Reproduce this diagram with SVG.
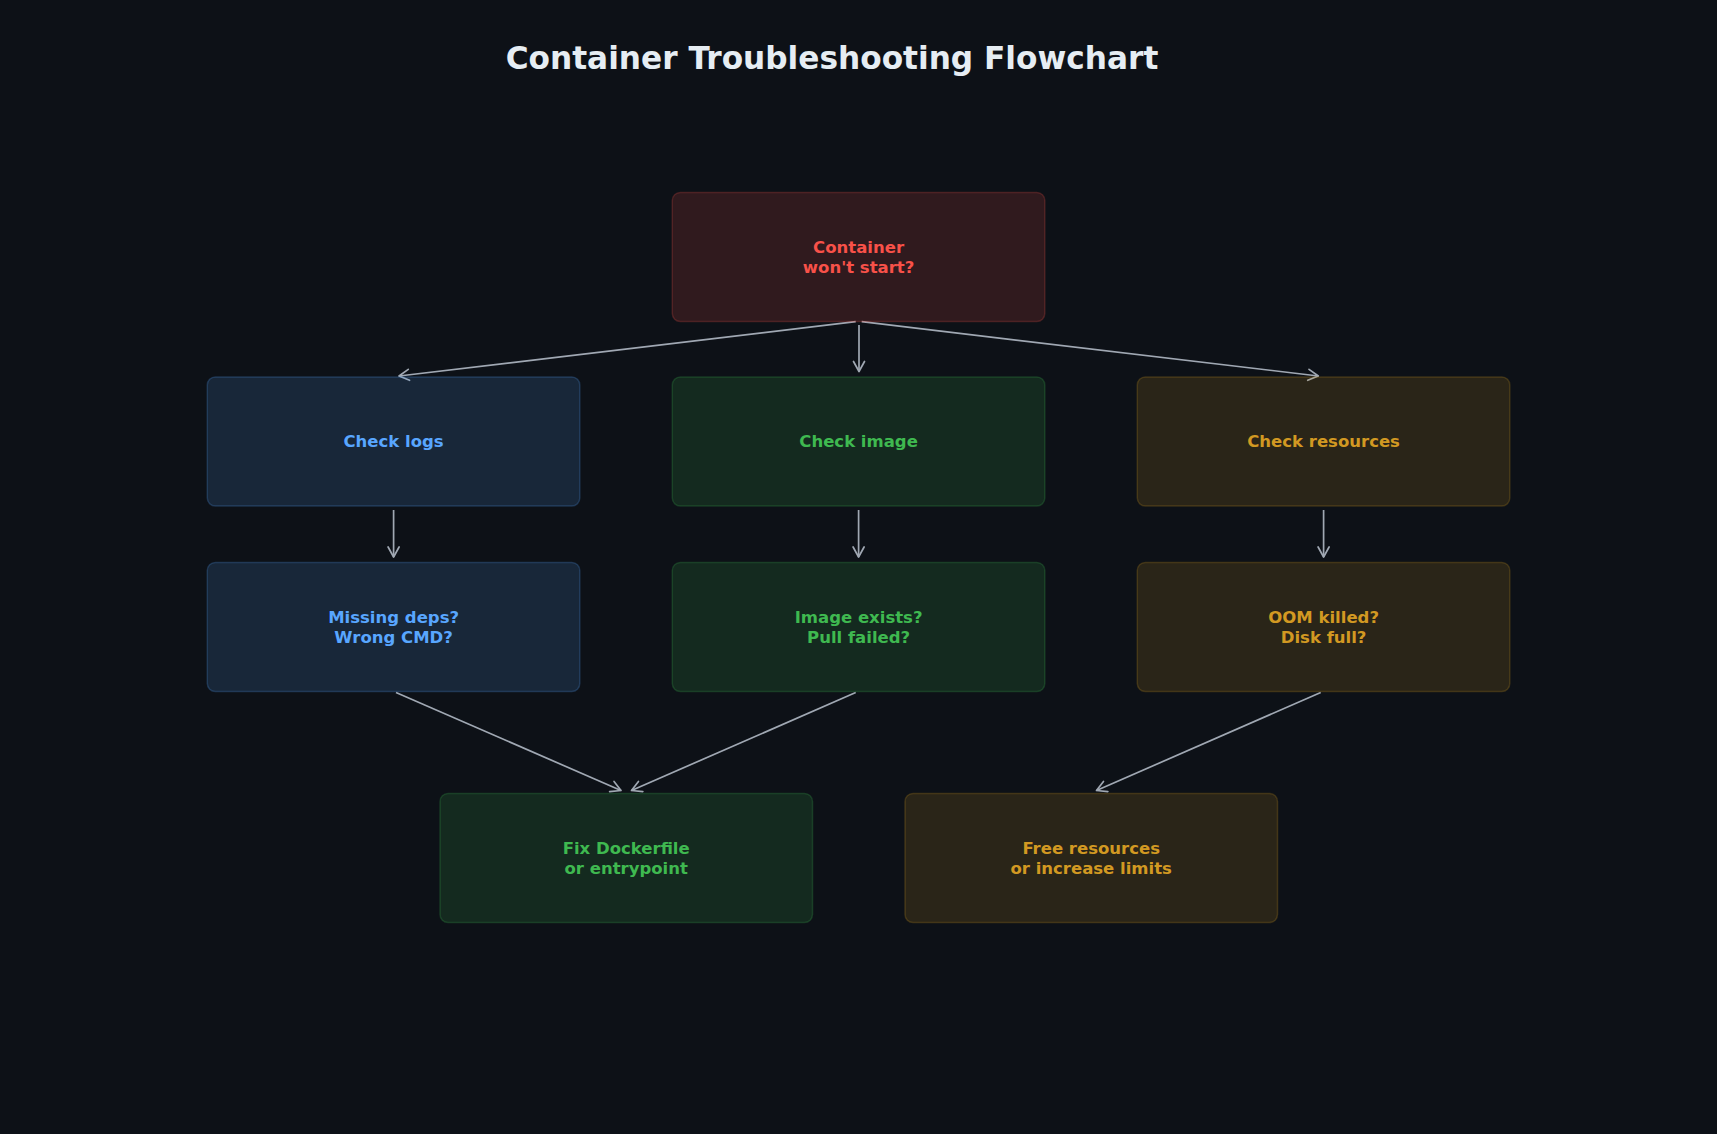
<svg xmlns="http://www.w3.org/2000/svg" width="1717" height="1134" viewBox="0 0 1717 1134">
  <defs>
    <marker id="arrow" markerUnits="userSpaceOnUse" markerWidth="14" markerHeight="14" viewBox="-12 -7 14 14" refX="0" refY="0" orient="auto">
      <polyline points="-10,-5.5 0,0 -10,5.5" fill="none" stroke="#a0a8b3" stroke-width="1.7" stroke-linecap="round" stroke-linejoin="round"/>
    </marker>
    <style>
      .title { font-family: "DejaVu Sans", "Liberation Sans", sans-serif; font-weight: bold; font-size: 31.2px; fill: #e6edf3; text-anchor: middle; }
      .lbl { font-family: "DejaVu Sans", "Liberation Sans", sans-serif; font-weight: bold; font-size: 16.5px; text-anchor: middle; }
      .box { stroke-width: 1.5; fill-opacity: 0.15; stroke-opacity: 0.22; }
      .red { fill: #f85149; stroke: #f85149; }
      .blue { fill: #58a6ff; stroke: #58a6ff; }
      .green { fill: #3fb950; stroke: #3fb950; }
      .yellow { fill: #d29922; stroke: #d29922; }
      .tred { fill: #f85149; }
      .tblue { fill: #58a6ff; }
      .tgreen { fill: #3fb950; }
      .tyellow { fill: #d29922; }
      .edge { fill: none; stroke: #a0a8b3; stroke-width: 1.7; marker-end: url(#arrow); }
    </style>
  </defs>
  <rect x="0" y="0" width="1717" height="1134" fill="#0d1117"/>
  <text class="title" x="832" y="69">Container Troubleshooting Flowchart</text>

  <g id="connectors">
    <line class="edge" x1="855.7" y1="321.7" x2="399" y2="376"/>
    <line class="edge" x1="859" y1="325" x2="859" y2="371.5"/>
    <line class="edge" x1="861.7" y1="321.7" x2="1318.3" y2="376"/>
    <line class="edge" x1="393.6" y1="510" x2="393.6" y2="557"/>
    <line class="edge" x1="858.6" y1="510" x2="858.6" y2="557"/>
    <line class="edge" x1="1323.6" y1="510" x2="1323.6" y2="557"/>
    <line class="edge" x1="396" y1="692.5" x2="621" y2="790.5"/>
    <line class="edge" x1="855.7" y1="692.5" x2="631.5" y2="790.5"/>
    <line class="edge" x1="1320.7" y1="692.5" x2="1096.5" y2="790.5"/>
  </g>

  <g id="node-start">
    <rect class="box red" x="672.3" y="192.5" width="372.5" height="129" rx="8"/>
    <text class="lbl tred" x="858.6" y="252.5">Container</text>
    <text class="lbl tred" x="858.6" y="272.5">won't start?</text>
  </g>
  <g id="node-logs">
    <rect class="box blue" x="207.3" y="377" width="372.5" height="129" rx="8"/>
    <text class="lbl tblue" x="393.6" y="446.8">Check logs</text>
  </g>
  <g id="node-image">
    <rect class="box green" x="672.3" y="377" width="372.5" height="129" rx="8"/>
    <text class="lbl tgreen" x="858.6" y="446.8">Check image</text>
  </g>
  <g id="node-resources">
    <rect class="box yellow" x="1137.3" y="377" width="372.5" height="129" rx="8"/>
    <text class="lbl tyellow" x="1323.6" y="446.8">Check resources</text>
  </g>
  <g id="node-missing">
    <rect class="box blue" x="207.3" y="562.5" width="372.5" height="129" rx="8"/>
    <text class="lbl tblue" x="393.6" y="622.5">Missing deps?</text>
    <text class="lbl tblue" x="393.6" y="642.5">Wrong CMD?</text>
  </g>
  <g id="node-exists">
    <rect class="box green" x="672.3" y="562.5" width="372.5" height="129" rx="8"/>
    <text class="lbl tgreen" x="858.6" y="622.5">Image exists?</text>
    <text class="lbl tgreen" x="858.6" y="642.5">Pull failed?</text>
  </g>
  <g id="node-oom">
    <rect class="box yellow" x="1137.3" y="562.5" width="372.5" height="129" rx="8"/>
    <text class="lbl tyellow" x="1323.6" y="622.5">OOM killed?</text>
    <text class="lbl tyellow" x="1323.6" y="642.5">Disk full?</text>
  </g>
  <g id="node-fix">
    <rect class="box green" x="440" y="793.5" width="372.5" height="129" rx="8"/>
    <text class="lbl tgreen" x="626.2" y="853.5">Fix Dockerfile</text>
    <text class="lbl tgreen" x="626.2" y="873.5">or entrypoint</text>
  </g>
  <g id="node-free">
    <rect class="box yellow" x="905" y="793.5" width="372.5" height="129" rx="8"/>
    <text class="lbl tyellow" x="1091.2" y="853.5">Free resources</text>
    <text class="lbl tyellow" x="1091.2" y="873.5">or increase limits</text>
  </g>
</svg>
